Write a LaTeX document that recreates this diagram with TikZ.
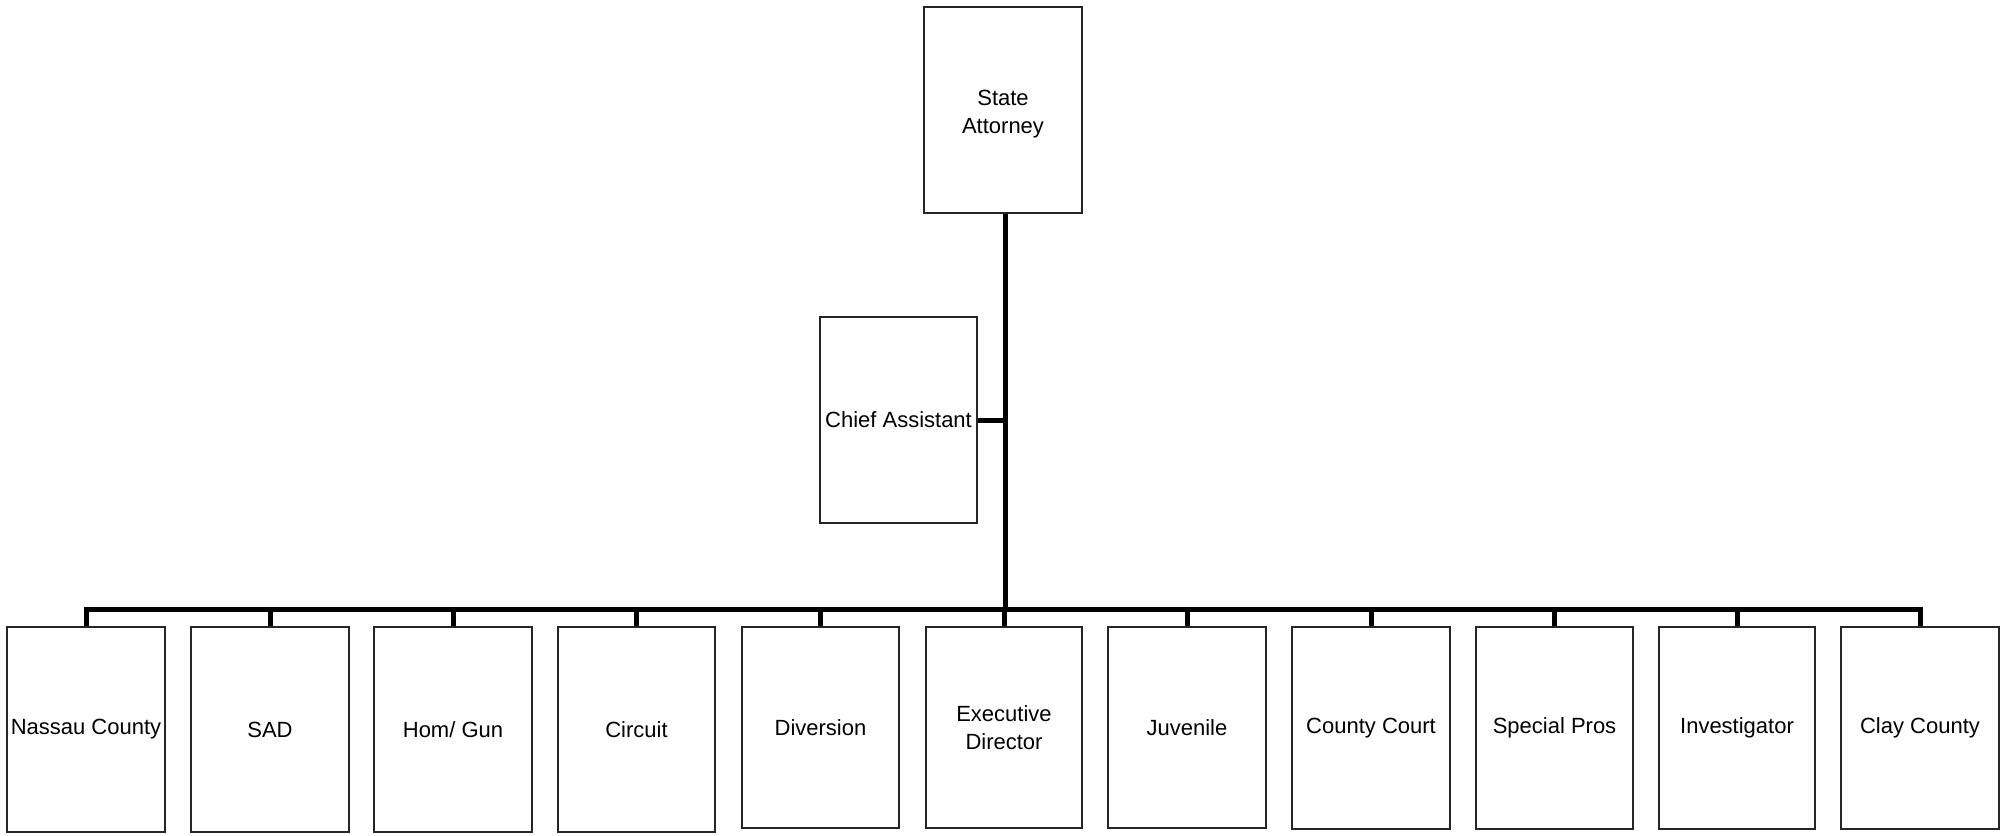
\documentclass[tikz,border=0pt]{standalone}
\usepackage{fontspec}
\setmainfont{Liberation Sans}
\begin{document}
\begin{tikzpicture}[x=1pt,y=-1pt,
  orgbox/.style={draw=black!85, line width=1.6pt, fill=white, inner sep=0pt, align=center,
    font=\fontsize{22}{28}\selectfont},
  conn/.style={draw=black, line width=5pt, line join=miter}]
\useasboundingbox (0,0) rectangle (2007,835);
% top
\node[orgbox, minimum width=158pt, minimum height=206pt] (sa) at (1003,110) {\\[-4pt]State\\Attorney};
\node[orgbox, minimum width=157pt, minimum height=206pt] (ca) at (898.5,420) {Chief Assistant};
% bottom row
\node[orgbox, minimum width=158pt, minimum height=205pt] (n1) at (86,729.5) {Nassau County};
\node[orgbox, minimum width=158pt, minimum height=205pt] (n2) at (270,729.5) {SAD};
\node[orgbox, minimum width=158pt, minimum height=205pt] (n3) at (453,729.5) {Hom/ Gun};
\node[orgbox, minimum width=157pt, minimum height=205pt] (n4) at (636.5,729.5) {Circuit};
\node[orgbox, minimum width=157pt, minimum height=201pt] (n5) at (820.5,727.5) {Diversion};
\node[orgbox, minimum width=156pt, minimum height=201pt] (n6) at (1004,727.5) {Executive\\Director};
\node[orgbox, minimum width=158pt, minimum height=201pt] (n7) at (1187,727.5) {Juvenile};
\node[orgbox, minimum width=158pt, minimum height=202pt] (n8) at (1371,728) {County Court};
\node[orgbox, minimum width=157pt, minimum height=202pt] (n9) at (1554.5,728) {Special Pros};
\node[orgbox, minimum width=156pt, minimum height=202pt] (n10) at (1737,728) {Investigator};
\node[orgbox, minimum width=158pt, minimum height=202pt] (n11) at (1920,728) {Clay County};
% connectors
\coordinate (bary) at (0,609);
\coordinate (trunk) at (1005,213);
\draw[conn] (sa.south -| trunk) -- (trunk |- bary);
\draw[conn] (ca.east) -- (ca.east -| trunk);
\draw[conn] (n1.north) -- (n1.north |- bary) -- (n11.north |- bary) -- (n11.north);
\foreach \n in {n2,n3,n4,n5,n6,n7,n8,n9,n10}{
  \draw[conn] (\n.north) -- (\n.north |- bary);
}
\end{tikzpicture}
\end{document}
